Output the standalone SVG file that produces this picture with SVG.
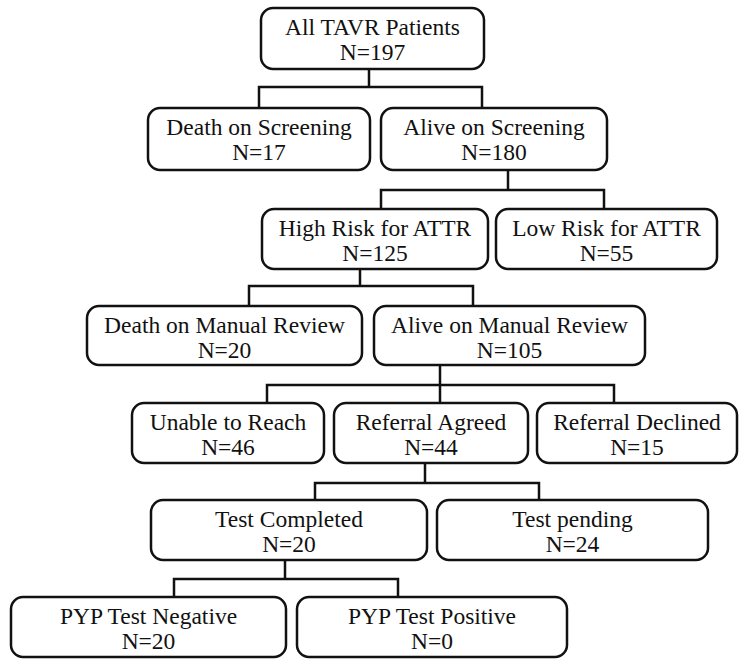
<svg xmlns="http://www.w3.org/2000/svg" width="750" height="666" viewBox="0 0 750 666">
<style>
.box{fill:#fff;stroke:#111;stroke-width:2.5}
.t{font-family:"Liberation Serif","Times New Roman",serif;font-size:23.5px;fill:#111;text-anchor:middle}
.c{fill:none;stroke:#111;stroke-width:2.5}
</style>
<rect width="750" height="666" fill="#fff"/>
<g id="connectors">
<path class="c" d="M369 69V87M259 108V87H482V108"/>
<path class="c" d="M508 170V190M381 209V190H604V209"/>
<path class="c" d="M360 269V286M249 306V286H473V306"/>
<path class="c" d="M440 365V403M267 403V385H614V403"/>
<path class="c" d="M425 463V483M315 500V483H539V500"/>
<path class="c" d="M285 560V579M174 597V579H398V597"/>
</g>
<g id="n1"><rect class="box" x="261" y="8" width="223" height="61" rx="12"/><text class="t" x="372.5" y="35">All TAVR Patients</text><text class="t" x="372.5" y="60">N=197</text></g>
<g id="n2"><rect class="box" x="148" y="108" width="222" height="62" rx="12"/><text class="t" x="259" y="135">Death on Screening</text><text class="t" x="259" y="160">N=17</text></g>
<g id="n3"><rect class="box" x="381" y="108" width="226" height="62" rx="12"/><text class="t" x="494" y="135">Alive on Screening</text><text class="t" x="494" y="160">N=180</text></g>
<g id="n4"><rect class="box" x="262" y="209" width="226" height="60" rx="12"/><text class="t" x="375" y="236">High Risk for ATTR</text><text class="t" x="375" y="261">N=125</text></g>
<g id="n5"><rect class="box" x="496" y="209" width="221" height="60" rx="12"/><text class="t" x="606.5" y="236">Low Risk for ATTR</text><text class="t" x="606.5" y="261">N=55</text></g>
<g id="n6"><rect class="box" x="87" y="306" width="275" height="59" rx="12"/><text class="t" x="224.5" y="333">Death on Manual Review</text><text class="t" x="224.5" y="358">N=20</text></g>
<g id="n7"><rect class="box" x="374" y="306" width="271" height="59" rx="12"/><text class="t" x="509.5" y="333">Alive on Manual Review</text><text class="t" x="509.5" y="358">N=105</text></g>
<g id="n8"><rect class="box" x="132" y="403" width="192" height="60" rx="12"/><text class="t" x="228" y="430">Unable to Reach</text><text class="t" x="228" y="455">N=46</text></g>
<g id="n9"><rect class="box" x="334" y="403" width="194" height="60" rx="12"/><text class="t" x="431" y="430">Referral Agreed</text><text class="t" x="431" y="455">N=44</text></g>
<g id="n10"><rect class="box" x="537" y="403" width="200" height="60" rx="12"/><text class="t" x="637" y="430">Referral Declined</text><text class="t" x="637" y="455">N=15</text></g>
<g id="n11"><rect class="box" x="151" y="500" width="276" height="60" rx="12"/><text class="t" x="289" y="527">Test Completed</text><text class="t" x="289" y="552">N=20</text></g>
<g id="n12"><rect class="box" x="437" y="500" width="271" height="60" rx="12"/><text class="t" x="572.5" y="527">Test pending</text><text class="t" x="572.5" y="552">N=24</text></g>
<g id="n13"><rect class="box" x="11" y="597" width="275" height="60" rx="12"/><text class="t" x="148.5" y="624">PYP Test Negative</text><text class="t" x="148.5" y="649">N=20</text></g>
<g id="n14"><rect class="box" x="297" y="597" width="270" height="60" rx="12"/><text class="t" x="432" y="624">PYP Test Positive</text><text class="t" x="432" y="649">N=0</text></g>
</svg>
